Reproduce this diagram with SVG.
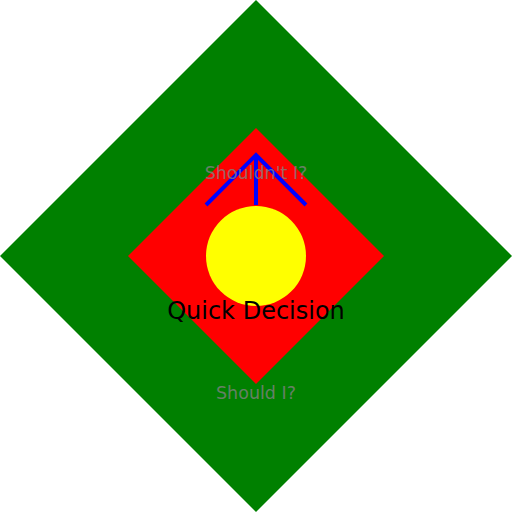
<svg xmlns="http://www.w3.org/2000/svg" width="512" height="512" viewBox="0 0 512 512">
<style>
.lbl{font-family:"DejaVu Sans",sans-serif;font-size:17.5px;fill:gray;fill-opacity:0.8;text-anchor:middle}
.title{font-family:"DejaVu Sans",sans-serif;font-size:24px;fill:black;text-anchor:middle}
.arr{stroke:blue;stroke-width:4;fill:none}
</style>
<rect width="512" height="512" fill="white"/>
<g id="outer"><polygon points="256,0 512,256 256,512 0,256" fill="green"/></g>
<g id="inner"><polygon points="256,128 384,256 256,384 128,256" fill="red"/></g>
<g id="circle"><circle cx="256" cy="256" r="50" fill="yellow"/></g>
<g id="connectors">
<polyline class="arr" points="206,205 256,155 306,205"/>
<line class="arr" x1="256" y1="155" x2="256" y2="205"/>
</g>
<g id="labels">
<text class="lbl" x="256" y="179">Shouldn't I?</text>
<text class="title" x="256" y="319">Quick Decision</text>
<text class="lbl" x="256" y="399">Should I?</text>
</g>
</svg>
